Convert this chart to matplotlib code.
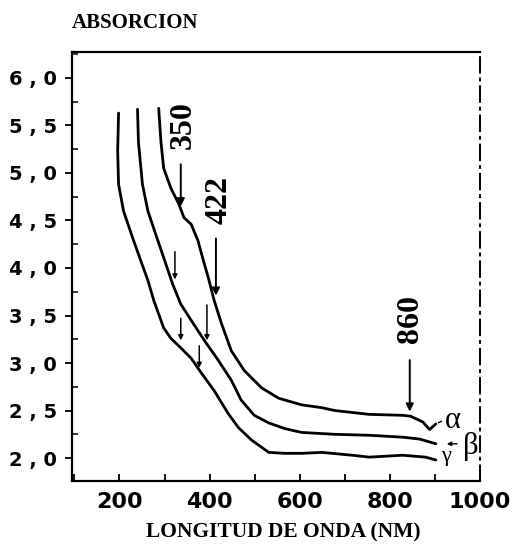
import numpy as np
import matplotlib
matplotlib.use("Agg")
import matplotlib.pyplot as plt
from matplotlib.ticker import MultipleLocator

# curva alfa (la de la derecha, arriba)
alpha_x = [287, 292, 298, 314, 332, 343, 359, 374, 386, 397, 410, 426, 448, 477,
           515, 553, 604, 649, 678, 754, 828, 846, 873, 888, 902]
alpha_y = [5.68, 5.33, 5.05, 4.84, 4.67, 4.53, 4.46, 4.29, 4.08, 3.90, 3.66, 3.42,
           3.13, 2.92, 2.74, 2.63, 2.56, 2.53, 2.50, 2.46, 2.45, 2.44, 2.38, 2.30, 2.36]
# curva beta
beta_x = [240, 242, 251, 263, 280, 298, 318, 336, 359, 388, 419, 448, 470, 499,
          531, 567, 604, 678, 754, 828, 866, 902]
beta_y = [5.67, 5.33, 4.88, 4.60, 4.36, 4.11, 3.83, 3.62, 3.45, 3.24, 3.03, 2.82,
          2.61, 2.45, 2.37, 2.31, 2.27, 2.25, 2.24, 2.22, 2.20, 2.15]
# curva gamma
gamma_x = [198, 196, 198, 209, 229, 247, 263, 276, 298, 314, 336, 359, 381, 410,
           441, 464, 493, 531, 567, 604, 649, 716, 754, 828, 879, 902]
gamma_y = [5.63, 5.23, 4.88, 4.60, 4.32, 4.08, 3.87, 3.66, 3.37, 3.26, 3.16, 3.05,
           2.90, 2.71, 2.47, 2.32, 2.19, 2.06, 2.05, 2.05, 2.06, 2.03, 2.01, 2.03,
           2.01, 1.98]

# flechas con etiqueta: (x, y inicio, y fin, texto, x texto, y texto)
peaks = [
    (336, 5.12, 4.62, "350", 342, 5.50),
    (414, 4.34, 3.68, "422", 421, 4.72),
    (844, 3.06, 2.46, "860", 846, 3.46),
]
# flechas pequenas sin etiqueta: (x, y inicio, y fin)
small_arrows = [(323, 4.20, 3.85), (336, 3.50, 3.21), (394, 3.64, 3.21), (377, 3.21, 2.92)]

xticks = [200, 400, 600, 800, 1000]
yticks = [2.0, 2.5, 3.0, 3.5, 4.0, 4.5, 5.0, 5.5, 6.0]
ytick_labels = ["2 , 0", "2 , 5", "3 , 0", "3 , 5", "4 , 0", "4 , 5", "5 , 0", "5 , 5", "6 , 0"]

fig = plt.figure(figsize=(5.19, 5.44), dpi=100)
ax = fig.add_axes([0.139, 0.116, 0.786, 0.788])

for xs, ys in [(alpha_x, alpha_y), (beta_x, beta_y), (gamma_x, gamma_y)]:
    ax.plot(xs, ys, color="black", lw=2.0, solid_joinstyle="round",
            solid_capstyle="round")

serif = ["Liberation Serif", "DejaVu Serif"]
for x, y0, y1, txt, tx, ty in peaks:
    ax.annotate("", xy=(x, y1), xytext=(x, y0),
                arrowprops=dict(arrowstyle="-|>", color="black", lw=1.4, mutation_scale=11))
    ax.text(tx, ty, txt, rotation=90, ha="center", va="center", fontsize=23,
            fontweight="bold", family=serif)
for x, y0, y1 in small_arrows:
    ax.annotate("", xy=(x, y1), xytext=(x, y0),
                arrowprops=dict(arrowstyle="-|>", color="black", lw=1.1, mutation_scale=7))

ax.text(940, 2.40, "α", fontsize=22, ha="center", va="center", family=serif)
ax.text(980, 2.12, "β", fontsize=22, ha="center", va="center", family=serif)
ax.text(924, 2.02, "γ", fontsize=16, ha="center", va="center", family=serif)
ax.annotate("", xy=(902, 2.36), xytext=(920, 2.40),
            arrowprops=dict(arrowstyle="-", color="black", lw=1.0))
ax.annotate("", xy=(920, 2.15), xytext=(955, 2.15),
            arrowprops=dict(arrowstyle="-|>", color="black", lw=1.0, mutation_scale=6))

ax.set_xlim(95, 1000)
ax.set_ylim(1.76, 6.27)
ax.set_xticks(xticks)
ax.set_xticklabels([str(v) for v in xticks], fontsize=16, fontweight="bold")
ax.set_yticks(yticks)
ax.set_yticklabels(ytick_labels, fontsize=14, fontweight="bold")
ax.xaxis.set_minor_locator(MultipleLocator(100))
ax.yaxis.set_minor_locator(MultipleLocator(0.25))
ax.tick_params(axis="x", which="both", direction="in", length=5, width=1.3, pad=8)
ax.tick_params(axis="y", which="major", direction="out", length=5, width=1.3, pad=6)
ax.tick_params(axis="y", which="minor", direction="in", length=4, width=1.1)

for s in ["left", "bottom", "top"]:
    ax.spines[s].set_linewidth(1.6)
ax.spines["right"].set_linewidth(1.4)
ax.spines["right"].set_linestyle((0, (8, 3, 1, 3)))

fig.text(0.26, 0.958, "ABSORCION", fontsize=15, fontweight="bold", family=serif,
         ha="center", va="center")
fig.text(0.545, 0.022, "LONGITUD DE ONDA (NM)", fontsize=15.5, fontweight="bold",
         family=serif, ha="center", va="center")

fig.savefig("out.png", dpi=100)
